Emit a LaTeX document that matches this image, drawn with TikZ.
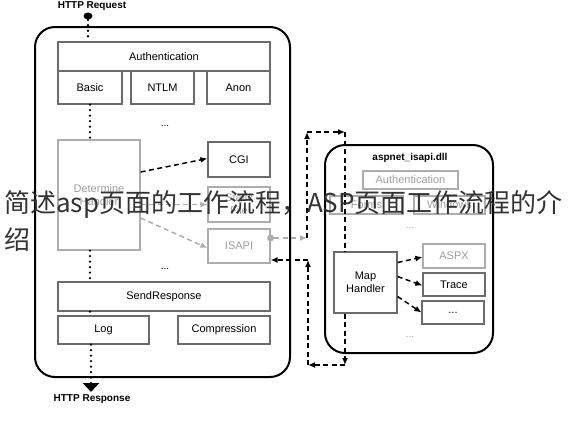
\documentclass[tikz,border=0pt]{standalone}
\usepackage{fontspec}
\setmainfont{Liberation Sans}
\newfontfamily\cjkfont{Noto Sans CJK SC}
\usepackage{tikz}
\usetikzlibrary{shapes,arrows}
\usetikzlibrary{arrows.meta}
\usetikzlibrary{calc}
\usetikzlibrary{positioning}
\definecolor{boxline}{gray}{0.42}
\definecolor{fadeline}{gray}{0.68}
\definecolor{fadetext}{gray}{0.62}
\tikzstyle{input} = [coordinate]
\tikzstyle{block} = [draw=boxline, line width=1.2pt, rectangle, inner sep=0pt, align=center, font=\fontsize{11}{13}\selectfont]
\tikzstyle{fadeblock} = [block, draw=fadeline, text=fadetext]
\tikzstyle{frame} = [draw, line width=2pt, rounded corners=20pt, rectangle]
\tikzstyle{flow} = [line width=2.6pt, dash pattern=on 0pt off 5.5pt, line cap=round]
\tikzstyle{call} = [->, line width=1.5pt, dash pattern=on 5pt off 3.5pt]
\tikzstyle{fadecall} = [call, draw=fadeline]
\tikzstyle{title} = [font=\bfseries\fontsize{10}{12}\selectfont]

\begin{document}
\begin{tikzpicture}[x=1pt, y=-1pt, >={Latex[length=7pt,width=6pt]}]
  \useasboundingbox [fill=white] (0,0) rectangle (569,426);

  % web server pipeline
  \node [frame, name=iis, minimum width=255pt, minimum height=350pt] at (162.5,202) {};
  \node [title, name=request] at (92,6) {HTTP Request};
  \node [fill, ellipse, inner sep=0pt, minimum width=9pt, minimum height=7pt, name=req] at (88,16) {};
  \node [block, name=auth, minimum width=212pt, minimum height=29pt] at (164,56.5) {Authentication};
  \node [block, name=basic, minimum width=64pt, minimum height=33pt] at (90,87.5) {Basic};
  \node [block, name=ntlm, minimum width=63pt, minimum height=33pt] at (162.5,87.5) {NTLM};
  \node [block, name=anon, minimum width=63pt, minimum height=33pt] at (238.5,87.5) {Anon};
  \node [name=dotsA] at (165,126) {...};
  \node [fadeblock, name=det, minimum width=82pt, minimum height=110pt] at (99,195) {Determine\\Handler};
  \node [block, name=cgi, minimum width=62pt, minimum height=35pt] at (239,159.5) {CGI};
  \node [fadeblock, name=static, minimum width=62pt, minimum height=35pt] at (239,204.5) {Static\\File};
  \node [fadeblock, name=isapi, minimum width=62pt, minimum height=34pt] at (239,246) {ISAPI};
  \node [name=dotsB] at (165,269) {...};
  \node [block, name=send, minimum width=212pt, minimum height=29pt] at (164,296.5) {SendResponse};
  \node [block, name=log, minimum width=91pt, minimum height=28pt] at (103.5,330) {Log};
  \node [block, name=comp, minimum width=92pt, minimum height=28pt] at (224,330) {Compression};
  \node [title, name=response] at (92,399) {HTTP Response};
  \node [input, name=resptip] at (91,392) {};

  \draw [flow] (req) -- (req |- auth.north);
  \draw [flow] (basic.south) -- (basic.south |- det.north);
  \draw [flow] (basic.south |- det.south) -- (basic.south |- send.north);
  \draw [flow] (basic.south |- send.south) -- (basic.south |- log.north);
  \draw [flow, -{Triangle[width=16pt,length=9pt]}] (resptip |- log.south) -- (resptip);

  \draw [call] ([yshift=23pt]det.east) -- ([yshift=1pt]cgi.west);
  \draw [fadecall] (det.east |- static.west) -- (static.west);
  \draw [fadecall] ([yshift=-23pt]det.east) -- ([yshift=-2pt]isapi.west);

  % aspnet_isapi.dll
  \node [frame, name=dll, minimum width=168pt, minimum height=208pt] at (409,249) {};
  \node [title, name=dllname] at (410,158) {aspnet\_isapi.dll};
  \node [fadeblock, name=auth2, minimum width=95pt, minimum height=18pt] at (410.5,180) {Authentication};
  \node [fadeblock, name=forms, minimum width=73pt, minimum height=18pt] at (366.5,205) {Forms};
  \node [fadeblock, name=windows, minimum width=71pt, minimum height=18pt] at (449.5,205) {Windows};
  \node [text=fadetext, name=dotsC] at (410,228) {...};
  \node [block, name=maph, minimum width=63pt, minimum height=61pt] at (365.5,282.5) {Map\\Handler};
  \node [fadeblock, name=aspx, minimum width=62pt, minimum height=24pt] at (454,256) {ASPX};
  \node [block, name=trace, minimum width=62pt, minimum height=23pt] at (454,284.5) {Trace};
  \node [block, name=more, minimum width=62pt, minimum height=23pt] at (453,312.5) {...};
  \node [text=fadetext, name=dotsD] at (410,337) {...};

  \draw [call] ([yshift=20pt]maph.east) -- ([yshift=-1pt]aspx.west);
  \draw [call] ([yshift=6pt]maph.east) -- ([yshift=-1pt]trace.west);
  \draw [call] ([yshift=-14pt]maph.east) -- (more.west);

  % hand over and back
  \node [circle, fill=fadeline, inner sep=0pt, minimum size=7pt, name=isdot] at ([yshift=8pt]isapi.east) {};
  \node [input, name=hopA] at (307,238) {};
  \node [input, name=hopB] at (307,132) {};
  \node [input, name=hopC] at (345,132) {};
  \node [input, name=hopD] at (345,365) {};
  \node [input, name=hopE] at (308,365) {};
  \node [input, name=hopF] at (308,260) {};
  \draw [fadecall] (isdot.east) -- (hopA);
  \draw [call] (hopA) -- (hopB);
  \draw [call] (hopB) -- (hopC);
  \draw [call, -] (hopC) -- (hopC |- maph.north);
  \draw [call] (hopC |- maph.south) -- (hopD);
  \draw [call] (hopD) -- (hopE);
  \draw [call] (hopE) -- (hopF);
  \draw [call] (hopF) -- ([yshift=-14pt]isapi.east);

  % caption over the picture
  \node [anchor=west, align=left, inner sep=0pt, text=black!80, font=\cjkfont\fontsize{26}{37}\selectfont, name=caption] at (4,221.5) {简述asp页面的工作流程，ASP页面工作流程的介\\绍};
\end{tikzpicture}
\end{document}
